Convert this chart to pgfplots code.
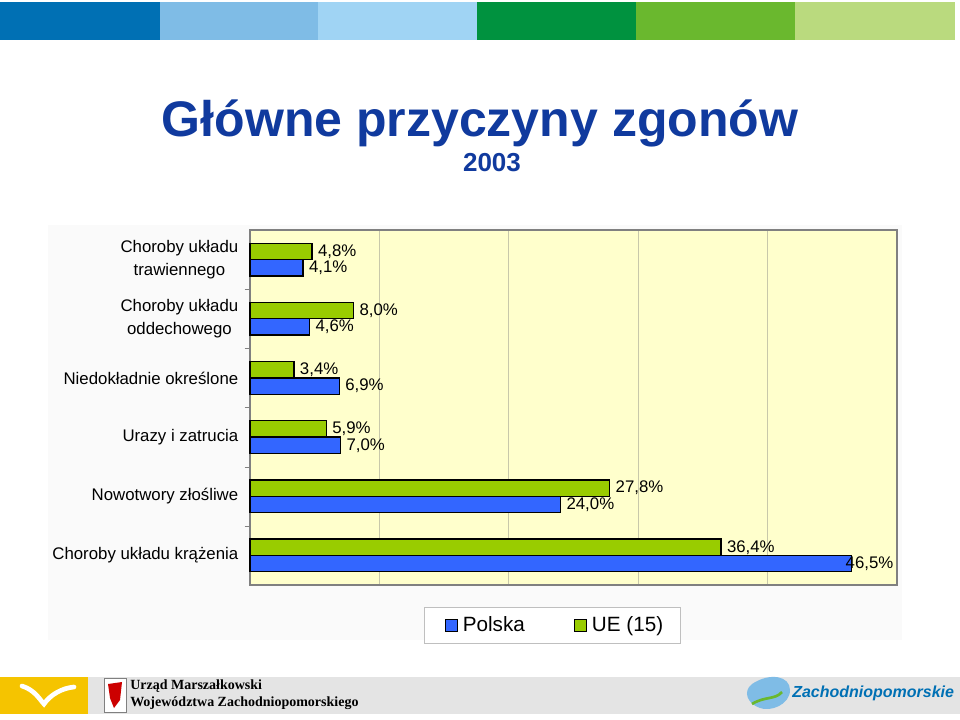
\documentclass[border=0pt]{standalone}
\usepackage{pgfplots}
\usepackage{pgfplotstable}
\pgfplotsset{compat=1.18}
\usepackage{fontspec}
\setmainfont{Liberation Sans}
\newfontfamily\seriffont{Liberation Serif}
\definecolor{titleblue}{RGB}{16,58,158}
\definecolor{plblue}{RGB}{51,102,255}
\definecolor{uegreen}{RGB}{153,204,0}
\definecolor{plotbg}{RGB}{255,255,204}
\definecolor{gridc}{RGB}{200,200,170}
\definecolor{frameg}{RGB}{128,128,128}
\definecolor{barA}{RGB}{0,112,180}
\definecolor{barB}{RGB}{127,188,230}
\definecolor{barC}{RGB}{160,212,244}
\definecolor{barD}{RGB}{0,146,63}
\definecolor{barE}{RGB}{106,184,46}
\definecolor{barF}{RGB}{186,218,126}
\definecolor{footgray}{RGB}{228,228,228}
\definecolor{footyellow}{RGB}{245,196,0}

\pgfplotstableread{
y x s
0 4.1 0
1 4.6 0
2 6.9 0
3 7.0 0
4 24.0 0
5 46.5 -9
}\pldata
\pgfplotstableread{
y x s
0 4.8 0
1 8.0 0
2 3.4 0
3 5.9 0
4 27.8 0
5 36.4 0
}\uedata

\begin{document}
\begin{tikzpicture}[x=0.75pt,y=-0.75pt]
\path[use as bounding box] (0,0) rectangle (960,720);
\fill[white] (0,0) rectangle (960,720);
% top colour bars
\fill[barA] (0,2) rectangle (160,40);
\fill[barB] (160,2) rectangle (318,40);
\fill[barC] (318,2) rectangle (477,40);
\fill[barD] (477,2) rectangle (636,40);
\fill[barE] (636,2) rectangle (795,40);
\fill[barF] (795,2) rectangle (955,40);
% title
\node[anchor=base,text=titleblue,inner sep=0pt] at (480,137) {\fontsize{37.5}{40}\selectfont\bfseries Główne przyczyny zgonów};
\node[anchor=base,text=titleblue,inner sep=0pt] at (492,172) {\fontsize{19.5}{22}\selectfont\bfseries 2003};
% chart area
\fill[black!2] (48,225) rectangle (902,640);
% footer
\fill[footgray] (88,677) rectangle (960,714);
\fill[footyellow] (0,677) rectangle (88,714);
\draw[white,line width=3.5pt,line cap=round] (22,686) .. controls (35,690) and (40,700) .. (44,704) .. controls (50,695) and (62,688) .. (74,687);
\fill[white] (104,678) rectangle (126,712);
\draw[frameg,line width=0.4pt] (104,678) rectangle (126,712);
\fill[red!80!black] (108,684) -- (122,682) -- (120,700) -- (114,708) -- (110,698) -- cycle;
\node[anchor=west,inner sep=0pt] at (130,686) {\seriffont\fontsize{10.5}{12}\selectfont\bfseries Urząd Marszałkowski};
\node[anchor=west,inner sep=0pt] at (130,703) {\seriffont\fontsize{10.5}{12}\selectfont\bfseries Województwa Zachodniopomorskiego};
\fill[barB] (752,684) .. controls (770,672) and (790,676) .. (790,690) .. controls (790,705) and (770,712) .. (760,708) .. controls (748,704) and (742,692) .. cycle;
\draw[barE,line width=2pt] (752,704) .. controls (765,696) and (775,700) .. (782,692);
\node[anchor=west,inner sep=0pt,text=barA] at (792,693) {\fontsize{12}{14}\selectfont\bfseries\itshape Zachodniopomorskie};

\begin{axis}[
  at={(187.5pt,-438.75pt)}, anchor=south west,
  scale only axis, width=485.25pt, height=266.25pt,
  xbar, xmin=0, xmax=50, ymin=-0.5, ymax=5.5, y dir=reverse,
  bar width=0.275,
  clip=false,
  axis background/.style={fill=plotbg},
  axis line style={frameg, line width=1pt},
  xtick={10,20,30,40}, xticklabels={}, xmajorgrids,
  grid style={gridc, line width=0.8pt},
  x tick style={draw=none},
  ytick pos=left,
  ytick={0,1,2,3,4,5},
  yticklabels={{Choroby układu\\trawiennego},{Choroby układu\\oddechowego},{Niedokładnie określone},{Urazy i zatrucia},{Nowotwory złośliwe},{Choroby układu krążenia}},
  yticklabel style={align=center, font=\fontsize{12.6}{17}\selectfont, xshift=-1pt},
  y tick style={draw=none},
  extra y ticks={0.5,1.5,2.5,3.5,4.5},
  extra y tick labels={},
  extra y tick style={tick align=outside, major tick length=4pt, y tick style={draw=frameg}},
  /pgf/number format/assume math mode=true,
  nodes near coords={\pgfmathprintnumber[fixed,fixed zerofill,precision=1,use comma]{\pgfplotspointmeta}\%},
  visualization depends on={\thisrow{s} \as \lshift},
  nodes near coords style={font=\fontsize{12.6}{14}\selectfont, xshift=\lshift pt, inner sep=4pt},
  legend style={at={(0.467,-0.113)}, anchor=center, draw=black!25, fill=white,
    font=\fontsize{15.5}{18}\selectfont, legend columns=2,
    /tikz/every even column/.append style={column sep=27pt},
    nodes={inner xsep=3.5pt},
    inner xsep=9.25pt, inner ysep=5pt},
  legend image code/.code={\path[draw=none,fill=none] (0pt,0pt) -- (7pt,0pt);\draw[#1,draw=black,line width=0.6pt] (7pt,-4.5pt) rectangle (16pt,4.5pt);},
]
\addplot[fill=plblue, draw=black, line width=1pt, bar shift=0.1375] table[x=x,y=y] {\pldata};
\addplot[fill=uegreen, draw=black, line width=1pt, bar shift=-0.1375] table[x=x,y=y] {\uedata};
\legend{Polska,UE (15)}
\end{axis}
\end{tikzpicture}
\end{document}
